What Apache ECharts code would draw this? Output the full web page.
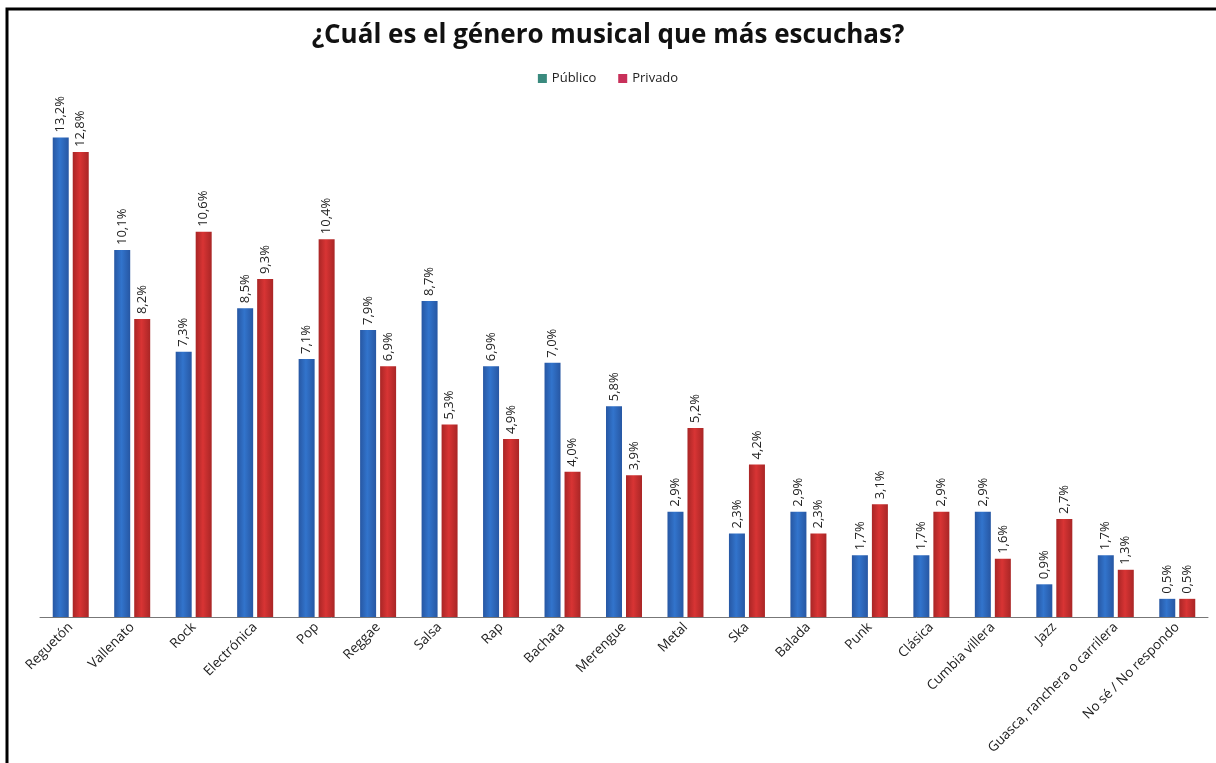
<!DOCTYPE html>
<html>
<head>
<meta charset="utf-8">
<script src="https://cdn.jsdelivr.net/npm/echarts@6/dist/echarts.min.js"></script>
<style>html,body{margin:0;padding:0;background:#fff;}#c{width:1216px;height:763px;}</style>
</head>
<body>
<div id="c"></div>
<script>
const titleText = '¿Cuál es el género musical que más escuchas?';
const categories = ['Reguetón','Vallenato','Rock','Electrónica','Pop','Reggae','Salsa','Rap','Bachata','Merengue','Metal','Ska','Balada','Punk','Clásica','Cumbia villera','Jazz','Guasca, ranchera o carrilera','No sé / No respondo'];
const seriesNames = ['Público','Privado'];
const publico = [13.2,10.1,7.3,8.5,7.1,7.9,8.7,6.9,7.0,5.8,2.9,2.3,2.9,1.7,1.7,2.9,0.9,1.7,0.5];
const privado = [12.8,8.2,10.6,9.3,10.4,6.9,5.3,4.9,4.0,3.9,5.2,4.2,2.3,3.1,2.9,1.6,2.7,1.3,0.5];

const chart = echarts.init(document.getElementById('c'));
const fontFam = '"Open Sans", "Noto Sans", sans-serif';
function grad(edge, mid){
  return new echarts.graphic.LinearGradient(0,0,1,0,[
    {offset:0,color:edge},{offset:0.45,color:mid},{offset:1,color:edge}]);
}
const lbl = {
  show:true, position:'top', rotate:90, align:'left', verticalAlign:'middle',
  distance:5, color:'#222', fontSize:13, fontFamily:fontFam,
  formatter: p => p.value.toFixed(1).replace('.',',') + '%'
};
chart.setOption({
  backgroundColor:'#fff',
  animation:false,
  title:{text:titleText,left:'center',top:18,
    textStyle:{fontSize:26,fontWeight:'bold',color:'#111',fontFamily:fontFam}},
  legend:{top:67,left:'center',itemWidth:9,itemHeight:9,itemGap:22,
    textStyle:{fontSize:13,color:'#222',fontFamily:fontFam},
    data:[{name:seriesNames[0],icon:'rect',itemStyle:{color:'#3a8a7e'}},
          {name:seriesNames[1],icon:'rect',itemStyle:{color:'#c8305a'}}]},
  grid:{left:40,right:8,top:72,bottom:146,containLabel:false},
  xAxis:{type:'category',data:categories,
    axisLine:{lineStyle:{color:'#777',width:1}},axisTick:{show:false},
    axisLabel:{rotate:45,interval:0,fontSize:13.5,color:'#222',fontFamily:fontFam,margin:8}},
  yAxis:{type:'value',min:0,max:15,show:false,splitLine:{show:false}},
  series:[
    {name:seriesNames[0],type:'bar',data:publico,barWidth:16,barGap:'25%',
      itemStyle:{color:grad('#2757a3','#3274cc')},label:lbl},
    {name:seriesNames[1],type:'bar',data:privado,barWidth:16,
      itemStyle:{color:grad('#a92626','#d83434')},label:lbl}
  ],
  graphic:[{type:'rect',shape:{x:7,y:9,width:1260,height:800},
    style:{fill:'none',stroke:'#000',lineWidth:3},silent:true}]
});
</script>
</body>
</html>
